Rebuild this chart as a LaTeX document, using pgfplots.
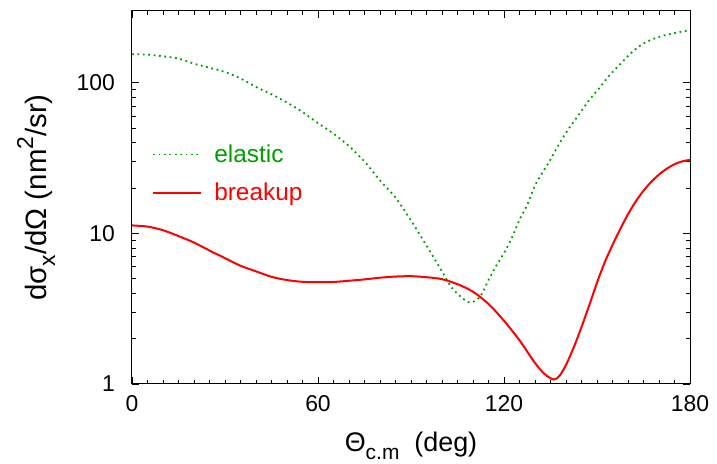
\documentclass[border=0pt]{standalone}
\usepackage{fontspec}
\setmainfont{Liberation Sans}
\usepackage{pgfplots}
\pgfplotsset{compat=1.18}
\definecolor{elgreen}{RGB}{0,160,0}
\definecolor{bured}{RGB}{255,0,0}

\begin{document}
\begin{tikzpicture}
\begin{axis}[
    scale only axis,
    width=558bp, height=373bp,
    ymode=log,
    xmin=0, xmax=180, ymin=1, ymax=300,
    xtick={0,60,120,180}, minor x tick num=11,
    ytick={1,10,100}, yticklabels={1,10,100},
    tick align=inside,
    major tick length=7bp, minor tick length=4bp,
    axis line style={line width=1bp},
    tick style={line width=0.8bp, black},
    /pgf/number format/assume math mode=true,
    tick label style={font=\fontsize{23}{26}\selectfont, inner sep=0pt},
    xticklabel style={anchor=base, yshift=-28bp},
    yticklabel style={anchor=east, xshift=-17bp},
    xlabel={Θ\raisebox{-0.3em}{\fontsize{21}{24}\selectfont c.m}\ \ (deg)},
    ylabel={dσ\raisebox{-0.3em}{\fontsize{23}{26}\selectfont x}/dΩ (nm\raisebox{0.45em}{\fontsize{23}{26}\selectfont 2}/sr)},
    xlabel style={at={(axis description cs:0.5,-0.182)}, anchor=base,
        font=\fontsize{27}{30}\selectfont},
    ylabel style={at={(axis description cs:-0.172,0.5)}, anchor=center,
        font=\fontsize{29.5}{33}\selectfont},
    legend style={at={(axis description cs:0.036,0.564)}, anchor=west,
        draw=none, fill=none, font=\fontsize{24.5}{28}\selectfont,
        inner sep=0pt, row sep=19bp, column sep=12bp,
        nodes={inner sep=0pt}},
    legend cell align=left,
    legend image code/.code={\draw[#1] (0bp,0bp) -- (48bp,0bp);},
]
% elastic
\addplot[elgreen, line width=1.8bp, dash pattern=on 1.8bp off 3.6bp, smooth] coordinates {
    (0,155) (5,154) (10,150) (15,145) (20,134) (25,126) (30,118)
    (35,107) (40,94) (45,84) (50,74) (55,64) (60,54) (65,46)
    (70,38) (75,30) (80,22.5) (85,17.3) (90,12.2) (95,8.3)
    (100,5.6) (103,4.4) (106,3.8) (108.5,3.5) (110.5,3.55)
    (112.5,3.85) (115,4.9) (117.5,6.1) (120,7.4) (122.5,9.3)
    (125,12.3) (127.5,15.5) (130,20.8) (132.5,25.5) (135,31)
    (138,40) (141,50) (144.5,63) (147.5,77) (150.5,91) (154,112)
    (157.5,133) (161,158) (164.5,180) (168,195) (171.5,206)
    (175,214) (178,220) (180,222)
};
\addlegendentry{\textcolor{elgreen}{elastic}}
% breakup
\addplot[bured, line width=2bp, smooth] coordinates {
    (0,11.3) (5,11.1) (10,10.5) (15,9.6) (20,8.7) (25,7.7) (30,6.85)
    (35,6.1) (40,5.6) (45,5.15) (50,4.9) (55,4.77) (60,4.74)
    (65,4.76) (70,4.85) (75,4.95) (80,5.08) (85,5.17) (90,5.2)
    (95,5.12) (100,4.97) (105,4.6) (110,4.1) (115,3.4) (120,2.63)
    (125,1.95) (130,1.38) (133,1.17) (136,1.07) (138,1.14) (140,1.34)
    (142.5,1.75) (145,2.39) (147.5,3.33) (150,4.71) (152.5,6.43)
    (155,8.38) (157.5,10.7) (160,13.4) (162.5,16.3) (165,19.2)
    (167.5,22.0) (170,24.6) (172.5,26.9) (175,28.8) (177.5,30.1) (180,30.8)
};
\addlegendentry{\textcolor{bured}{breakup}}
\coordinate (bl) at (rel axis cs:0,0);
\coordinate (tr) at (rel axis cs:1,1);
\end{axis}
\path[use as bounding box] (bl) ++(-132bp,-77bp) rectangle ([xshift=27bp,yshift=11bp]tr);
\end{tikzpicture}
\end{document}
